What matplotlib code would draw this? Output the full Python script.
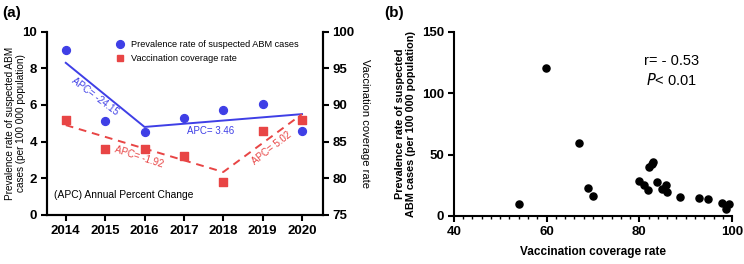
import matplotlib.pyplot as plt
from matplotlib.lines import Line2D
from matplotlib.ticker import MultipleLocator

plt.rcParams['font.family'] = ['Liberation Sans', 'DejaVu Sans']

# panel (a)
years = [2014, 2015, 2016, 2017, 2018, 2019, 2020]
prevalence = [9.0, 5.1, 4.5, 5.3, 5.75, 6.05, 4.6]
vaccination = [88.0, 84.0, 84.0, 83.0, 79.5, 86.5, 88.0]
prev_trend_years = [2014, 2016, 2020]
prev_trend = [8.3, 4.8, 5.5]
vacc_trend_years = [2014, 2018, 2020]
vacc_trend = [87.25, 80.85, 88.75]

# panel (b)
coverage = [54.0, 59.9, 66.9, 68.9, 69.9, 80.0, 80.9, 81.8, 82.0, 82.8, 82.9,
            83.9, 84.8, 85.8, 85.9, 88.8, 92.8, 94.8, 97.8, 98.7, 99.4]
abm_rate = [10.0, 120.5, 59.5, 22.4, 15.9, 28.5, 25.2, 20.9, 39.6, 42.0, 44.0,
            27.9, 22.0, 25.2, 19.8, 15.7, 14.4, 13.6, 10.3, 5.4, 9.5]

blue = '#3f3fe6'
red = '#e84545'

fig = plt.figure(figsize=(7.44, 2.64), dpi=100)

ax1 = fig.add_axes([0.063, 0.186, 0.371, 0.694])
ax2 = ax1.twinx()

ax1.plot(prev_trend_years, prev_trend, color=blue, lw=1.4, zorder=2)
ax1.scatter(years, prevalence, color=blue, s=32, zorder=3)
ax2.plot(vacc_trend_years, vacc_trend, color=red, lw=1.4, ls=(0, (4, 3)), zorder=2)
ax2.scatter(years, vaccination, color=red, marker='s', s=26, zorder=3)

ax1.set_xlim(2013.52, 2020.53)
ax1.set_ylim(0, 10)
ax2.set_ylim(75, 100)
ax1.set_xticks(years)
ax1.set_yticks([0, 2, 4, 6, 8, 10])
ax2.set_yticks([75, 80, 85, 90, 95, 100])

for a in (ax1, ax2):
    a.spines['top'].set_visible(False)
    for s in a.spines.values():
        s.set_linewidth(1.5)
    a.tick_params(width=1.5, length=4, labelsize=9.5, pad=3)
    for lab in a.get_xticklabels() + a.get_yticklabels():
        lab.set_fontweight('bold')

ax1.set_ylabel('Prevalence rate of suspected ABM\ncases (per 100 000 population)',
               fontsize=7.2, linespacing=1.15)
ax1.yaxis.set_label_coords(-0.074, 0.5)
ax2.set_ylabel('Vaccination coverage rate', fontsize=8, rotation=270, labelpad=11)

handles = [
    Line2D([], [], marker='o', color=blue, ls='none', markersize=5.6),
    Line2D([], [], marker='s', color=red, ls='none', markersize=5),
]
ax1.legend(handles, ['Prevalence rate of suspected ABM cases', 'Vaccination coverage rate'],
           loc='upper left', bbox_to_anchor=(0.22, 1.0), frameon=False, fontsize=6.6,
           handlelength=1.0, handletextpad=0.6, labelspacing=0.55)

ax1.text(2014.74, 6.45, 'APC= -24.15', color=blue, fontsize=7, rotation=-37,
         ha='center', va='center')
ax1.text(2017.69, 4.58, 'APC= 3.46', color=blue, fontsize=7, ha='center', va='center')
ax2.text(2015.86, 82.9, 'APC= -1.92', color=red, fontsize=7, rotation=-18,
         ha='center', va='center')
ax2.text(2019.24, 84.1, 'APC= 5.02', color=red, fontsize=7, rotation=38,
         ha='center', va='center')
ax1.text(2013.7, 1.1, '(APC) Annual Percent Change', fontsize=7.4, ha='left', va='center')

fig.text(0.003, 0.952, '(a)', fontsize=11, fontweight='bold', va='center')

# panel (b)
bx = fig.add_axes([0.610, 0.182, 0.374, 0.698])
bx.scatter(coverage, abm_rate, color='black', s=26, zorder=3, clip_on=False)
bx.set_xlim(40, 100)
bx.set_ylim(0, 150)
bx.set_xticks([40, 60, 80, 100])
bx.set_yticks([0, 50, 100, 150])
bx.xaxis.set_minor_locator(MultipleLocator(2))
bx.spines['top'].set_visible(False)
bx.spines['right'].set_visible(False)
for s in bx.spines.values():
    s.set_linewidth(1.5)
bx.tick_params(width=1.5, length=4, labelsize=9.5, pad=3)
bx.tick_params(which='minor', width=1.0, length=2.5)
for lab in bx.get_xticklabels() + bx.get_yticklabels():
    lab.set_fontweight('bold')
bx.set_xlabel('Vaccination coverage rate', fontsize=8.5, fontweight='bold', labelpad=6)
bx.set_ylabel('Prevalence rate of suspected\nABM cases (per 100 000 population)',
              fontsize=7.8, fontweight='bold', labelpad=4, linespacing=1.15)

bx.text(86.9, 126, 'r= - 0.53', fontsize=10.5, ha='center', va='center')
bx.text(86.9, 111, r'$\it{P}$< 0.01', fontsize=10.5, ha='center', va='center')

fig.text(0.516, 0.952, '(b)', fontsize=11, fontweight='bold', va='center')

fig.savefig('out.png', dpi=100)
